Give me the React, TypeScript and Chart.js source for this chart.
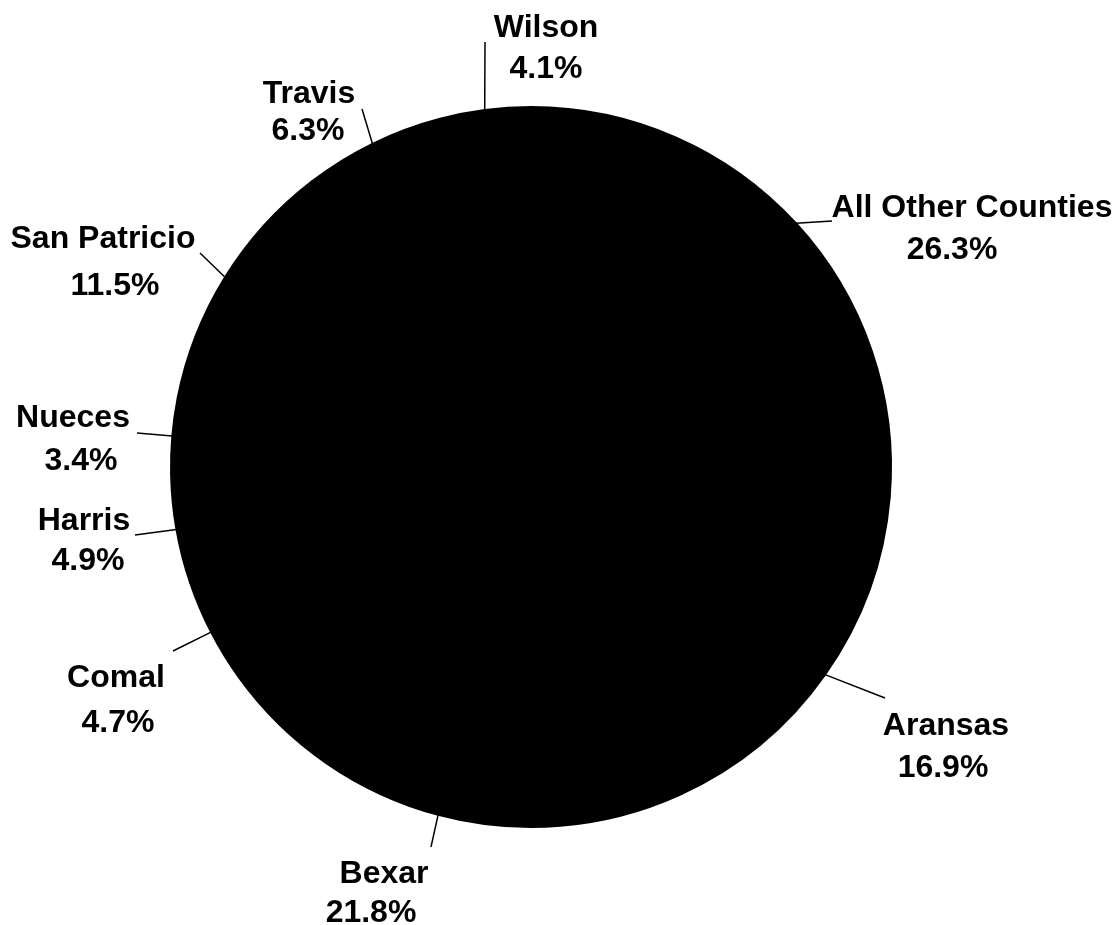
import React, { useEffect, useRef } from "react";
import { Chart, registerables } from "chart.js";

Chart.register(...registerables);

const counties = [
  "All Other Counties",
  "Aransas",
  "Bexar",
  "Comal",
  "Harris",
  "Nueces",
  "San Patricio",
  "Travis",
  "Wilson",
];
const shares = [26.3, 16.9, 21.8, 4.7, 4.9, 3.4, 11.5, 6.3, 4.1];
const pctLabels = ["26.3%", "16.9%", "21.8%", "4.7%", "4.9%", "3.4%", "11.5%", "6.3%", "4.1%"];

// label layout: leader-line end point, name centre x / baseline, percent centre x / baseline
const labelLayout = [
  { end: [832, 221], name: [972, 217], pct: [952, 259] },
  { end: [885, 698], name: [946, 735], pct: [943, 777] },
  { end: [431, 847], name: [384, 883], pct: [371, 922] },
  { end: [173, 651], name: [116, 687], pct: [118, 732] },
  { end: [135, 535], name: [84, 530], pct: [88, 570] },
  { end: [137, 433], name: [73, 427], pct: [81, 470] },
  { end: [200, 253], name: [103, 248], pct: [115, 295] },
  { end: [362, 109], name: [309, 103], pct: [308, 140] },
  { end: [485, 42], name: [546, 37], pct: [546, 78] },
];

const labelPlugin = {
  id: "leaderLabels",
  afterDraw(chart: any) {
    const ctx = chart.ctx;
    const meta = chart.getDatasetMeta(0);
    ctx.save();
    ctx.font = "bold 32px 'Liberation Sans', Arial, sans-serif";
    ctx.fillStyle = "#000";
    ctx.strokeStyle = "#000";
    ctx.lineWidth = 1.5;
    ctx.textAlign = "center";
    ctx.textBaseline = "alphabetic";
    meta.data.forEach((arc: any, i: number) => {
      const p = arc.getProps(["x", "y", "startAngle", "endAngle", "outerRadius"], true);
      const mid = (p.startAngle + p.endAngle) / 2;
      const sx = p.x + Math.cos(mid) * p.outerRadius;
      const sy = p.y + Math.sin(mid) * p.outerRadius;
      const lay = labelLayout[i];
      ctx.beginPath();
      ctx.moveTo(sx, sy);
      ctx.lineTo(lay.end[0], lay.end[1]);
      ctx.stroke();
      ctx.fillText(counties[i], lay.name[0], lay.name[1]);
      ctx.fillText(pctLabels[i], lay.pct[0], lay.pct[1]);
    });
    ctx.restore();
  },
};

export default function App() {
  const ref = useRef<HTMLCanvasElement>(null);
  useEffect(() => {
    if (!ref.current) return;
    const chart = new Chart(ref.current, {
      type: "pie",
      data: {
        labels: counties,
        datasets: [
          {
            data: shares,
            backgroundColor: "#000",
            borderColor: "#000",
            borderWidth: 2,
          },
        ],
      },
      options: {
        responsive: false,
        animation: false,
        devicePixelRatio: 1,
        layout: { padding: { left: 170, right: 228, top: 106, bottom: 97 } },
        plugins: {
          legend: { display: false },
          tooltip: { enabled: false },
        },
      },
      plugins: [labelPlugin],
    });
    return () => chart.destroy();
  }, []);
  return (
    <div style={{ position: "absolute", left: 0, top: 0, width: 1120, height: 925, background: "#fff" }}>
      <canvas ref={ref} width={1120} height={925} style={{ width: 1120, height: 925 }} />
    </div>
  );
}
